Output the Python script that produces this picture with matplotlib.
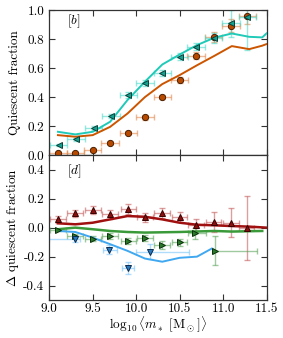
import numpy as np
import matplotlib
matplotlib.use('Agg')
import matplotlib.pyplot as plt

# --- data: upper panel [b] ---
x_orange = [9.10, 9.30, 9.50, 9.70, 9.91, 10.10, 10.30, 10.50, 10.69, 10.89, 11.09, 11.28]
y_orange = [0.012, 0.016, 0.035, 0.087, 0.156, 0.260, 0.400, 0.520, 0.687, 0.816, 0.894, 0.963]
yerr_orange = [0.008, 0.008, 0.01, 0.01, 0.012, 0.015, 0.015, 0.02, 0.025, 0.035, 0.045, 0.06]

x_teal = [9.11, 9.31, 9.51, 9.71, 9.91, 10.10, 10.30, 10.50, 10.69, 10.89, 11.09, 11.28]
y_teal = [0.070, 0.108, 0.186, 0.270, 0.414, 0.497, 0.568, 0.678, 0.749, 0.810, 0.908, 0.954]
yerr_teal = [0.01, 0.01, 0.012, 0.015, 0.02, 0.02, 0.02, 0.025, 0.025, 0.035, 0.09, 0.23]
xerr_pts = [0.1] * 12

line_x = [9.1, 9.3, 9.5, 9.7, 9.9, 10.1, 10.3, 10.5, 10.7, 10.9, 11.1, 11.3, 11.45, 11.5]
teal_line = [0.161, 0.143, 0.161, 0.230, 0.380, 0.506, 0.625, 0.694, 0.759, 0.810, 0.839, 0.816, 0.812, 0.840]
orange_line = [0.138, 0.127, 0.138, 0.195, 0.287, 0.400, 0.490, 0.552, 0.620, 0.685, 0.752, 0.731, 0.755, 0.766]

# --- data: lower panel [d] ---
x_red = [9.10, 9.30, 9.50, 9.70, 9.91, 10.10, 10.30, 10.50, 10.69, 10.89, 11.09, 11.27]
y_red = [0.057, 0.098, 0.121, 0.091, 0.130, 0.071, 0.103, 0.071, 0.020, 0.039, 0.034, -0.002]
yerr_red = [0.025, 0.025, 0.03, 0.03, 0.035, 0.03, 0.035, 0.035, 0.04, 0.07, 0.1, 0.22]

x_green = [9.10, 9.30, 9.50, 9.70, 9.91, 10.10, 10.30, 10.50, 10.68, 10.91]
y_green = [-0.016, -0.057, -0.075, -0.057, -0.094, -0.073, -0.119, -0.100, -0.040, -0.160]
yerr_green = [0.01, 0.015, 0.015, 0.02, 0.02, 0.02, 0.025, 0.025, 0.04, 0.1]
xerr_green_lo = [0.09, 0.09, 0.09, 0.09, 0.09, 0.09, 0.09, 0.09, 0.08, 0.03]
xerr_green_hi = [0.09, 0.09, 0.09, 0.09, 0.09, 0.09, 0.09, 0.09, 0.12, 0.48]

x_blue = [9.30, 9.69, 9.91, 10.16]
y_blue = [-0.080, -0.153, -0.280, -0.166]
yerr_blue = [0.02, 0.03, 0.04, 0.05]
xerr_blue_lo = [0.30, 0.07, 0.07, 0.16]
xerr_blue_hi = [0.05, 0.09, 0.07, 0.45]

red_line_x = [9.1, 9.3, 9.5, 9.7, 9.9, 10.1, 10.3, 10.5, 10.7, 10.9, 11.1, 11.3, 11.5]
red_line = [0.030, 0.023, 0.034, 0.057, 0.080, 0.075, 0.057, 0.034, 0.020, 0.016, 0.011, 0.007, 0.0]
green_line_x = [9.1, 9.3, 9.5, 9.7, 9.9, 10.1, 10.5, 10.9, 11.1, 11.45]
green_line = [-0.011, 0.0, -0.011, -0.023, -0.030, -0.034, -0.030, -0.023, -0.027, -0.023]
blue_line_x = [9.1, 9.3, 9.5, 9.7, 9.9, 10.1, 10.3, 10.5, 10.7, 10.87]
blue_line = [-0.023, -0.030, -0.069, -0.114, -0.160, -0.213, -0.235, -0.208, -0.200, -0.144]

plt.rcParams['font.family'] = 'serif'
plt.rcParams['font.serif'] = ['cmr10', 'DejaVu Serif']
plt.rcParams['mathtext.fontset'] = 'cm'
plt.rcParams['axes.unicode_minus'] = False
plt.rcParams['font.size'] = 9.5

fig = plt.figure(figsize=(2.83, 3.38), dpi=100)
ax1 = fig.add_axes([0.174, 0.541, 0.768, 0.429])
ax2 = fig.add_axes([0.174, 0.112, 0.768, 0.429])

def pts(ax, x, y, xerr, yerr, fmt, fc, ec, lc):
    ax.errorbar(x, y, xerr=xerr, yerr=yerr, fmt='none', ecolor=lc, alpha=0.55,
                elinewidth=1.0, capsize=2, capthick=1.0, zorder=2)
    ax.plot(x, y, fmt, ms=4.5, mfc=fc, mec=ec, mew=0.7, ls='none', zorder=4)

# upper panel
ax1.plot(line_x, orange_line, color='#cc5500', lw=1.4, zorder=3)
ax1.plot(line_x, teal_line, color='#1fcab8', lw=1.4, zorder=3)
pts(ax1, x_orange, y_orange, xerr_pts, yerr_orange, 'o', '#b84a00', '#4a1e00', '#e08040')
pts(ax1, x_teal, y_teal, xerr_pts, yerr_teal, '<', '#16a090', '#0a4038', '#40d8c8')
ax1.set_ylim(0, 1.0)
ax1.set_ylabel('Quiescent fraction')
ax1.text(9.2, 0.9, r'$[b]$', fontsize=9.5)
ax1.tick_params(labelbottom=False)

# lower panel
ax2.plot(red_line_x, red_line, color='#a01010', lw=1.8, zorder=3)
ax2.plot(green_line_x, green_line, color='#3a9a3a', lw=1.8, zorder=3)
ax2.plot(blue_line_x, blue_line, color='#40a8f0', lw=1.4, zorder=3)
pts(ax2, x_red, y_red, [0.09] * len(x_red), yerr_red, '^', '#8a0f0f', '#3a0000', '#c05050')
pts(ax2, x_green, y_green, [xerr_green_lo, xerr_green_hi], yerr_green, '>', '#2a7a2a', '#0a300a', '#50a050')
pts(ax2, x_blue, y_blue, [xerr_blue_lo, xerr_blue_hi], yerr_blue, 'v', '#2a7ac0', '#0a2a50', '#70c0f8')
ax2.set_ylim(-0.5, 0.5)
ax2.set_yticks([-0.4, -0.2, 0.0, 0.2, 0.4])
ax2.set_ylabel(r'$\Delta$ quiescent fraction')
ax2.set_xlabel(r'$\log_{10}\langle m_*\ [\mathrm{M_\odot}]\rangle$', labelpad=0)
ax2.text(9.2, 0.37, r'$[d]$', fontsize=9.5)

for ax in (ax1, ax2):
    ax.set_xlim(9.0, 11.5)
    ax.set_xticks([9.0, 9.5, 10.0, 10.5, 11.0, 11.5])
    ax.tick_params(direction='in', top=True, right=True, length=4, width=0.8, colors='#333333', labelcolor='black')
    ax.tick_params(axis='x', pad=2)
    for s in ax.spines.values():
        s.set_color('#333333')
        s.set_linewidth(0.9)

ax2.xaxis.set_major_formatter(matplotlib.ticker.FormatStrFormatter('%.1f'))
ax1.yaxis.set_major_formatter(matplotlib.ticker.FormatStrFormatter('%.1f'))
ax2.yaxis.set_major_formatter(matplotlib.ticker.FormatStrFormatter('%.1f'))
ax1.yaxis.set_label_coords(-0.13, 0.5)
ax2.yaxis.set_label_coords(-0.13, 0.5)

fig.savefig('out.png', dpi=100)
